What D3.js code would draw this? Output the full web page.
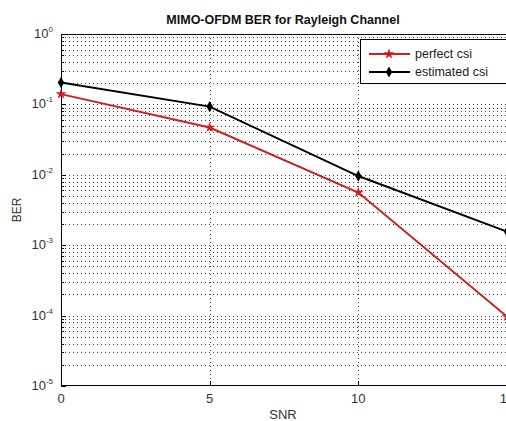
<!DOCTYPE html>
<html><head><meta charset="utf-8">
<script src="https://cdn.jsdelivr.net/npm/d3@7"></script>
<style>body{margin:0;background:#fff;}svg{display:block;}text{font-family:Arial,"Liberation Sans",sans-serif;}</style>
</head><body>
<script>
const snr = [0, 5, 10, 15];
const perfectCsi = [0.14, 0.047, 0.0056, 0.000097];
const estimatedCsi = [0.204, 0.093, 0.0096, 0.00156];
const xTicks = [0, 5, 10, 15];
const yDecades = [0, -1, -2, -3, -4, -5];
const seriesNames = ["perfect csi", "estimated csi"];

const W = 506, H = 421;
const svg = d3.select("body").append("svg").attr("width", W).attr("height", H);
const x = d3.scaleLinear().domain([0, 15]).range([61, 507]);
const y = d3.scaleLog().domain([1e-5, 1]).range([386, 34]);

// grid
const g = svg.append("g");
const minorVals = [];
for (let e = -5; e < 0; e++) for (let m = 1; m <= 9; m++) minorVals.push(m * Math.pow(10, e));
minorVals.push(1);
g.selectAll(".hg").data(minorVals.filter(v => v > 1e-5 && v < 1)).join("line")
  .attr("x1", x(0)).attr("x2", x(15)).attr("y1", d => Math.round(y(d)) + 0.5).attr("y2", d => Math.round(y(d)) + 0.5)
  .attr("stroke", "#444").attr("stroke-width", 1).attr("stroke-dasharray", "1,3");
g.selectAll(".vg").data([5, 10]).join("line")
  .attr("x1", d => Math.round(x(d)) + 0.5).attr("x2", d => Math.round(x(d)) + 0.5).attr("y1", y(1)).attr("y2", y(1e-5))
  .attr("stroke", "#444").attr("stroke-width", 1).attr("stroke-dasharray", "1,3");

// axes box
const ax = svg.append("g");
ax.append("line").attr("x1", x(0)+0.5).attr("x2", x(0)+0.5).attr("y1", y(1)).attr("y2", y(1e-5)).attr("stroke", "#000");
ax.append("line").attr("x1", x(0)).attr("x2", x(15)).attr("y1", y(1)+0.5).attr("y2", y(1)+0.5).attr("stroke", "#000");
ax.append("line").attr("x1", x(0)).attr("x2", x(15)).attr("y1", y(1e-5)-0.5).attr("y2", y(1e-5)-0.5).attr("stroke", "#000");
const isDecade = d => Math.abs(Math.log10(d) - Math.round(Math.log10(d))) < 1e-9;
ax.selectAll(".yt").data(minorVals.filter(v => v >= 1e-5 && v <= 1)).join("line")
  .attr("x1", x(0)).attr("x2", d => x(0) + (isDecade(d) ? 5 : 3))
  .attr("y1", d => Math.round(y(d)) + 0.5).attr("y2", d => Math.round(y(d)) + 0.5).attr("stroke", "#000");
ax.selectAll(".xt").data([5, 10]).join("line")
  .attr("x1", d => Math.round(x(d)) + 0.5).attr("x2", d => Math.round(x(d)) + 0.5)
  .attr("y1", y(1e-5)).attr("y2", y(1e-5) - 5).attr("stroke", "#000");

// y tick labels
const yl = svg.append("g").attr("fill", "#333").attr("font-size", 13);
yDecades.forEach(e => {
  const t = yl.append("text").attr("x", 53).attr("y", y(Math.pow(10, e)) + 4).attr("text-anchor", "end");
  t.append("tspan").text("10");
  t.append("tspan").attr("font-size", 8).attr("dy", -6).text(e);
});
// x tick labels
svg.append("g").selectAll("text").data(xTicks).join("text")
  .attr("x", d => x(d)).attr("y", 403).attr("text-anchor", "middle").attr("font-size", 13).attr("fill", "#333")
  .text(d => d);

svg.append("text").attr("x", 283).attr("y", 419).attr("text-anchor", "middle").attr("font-size", 13).attr("fill", "#333").text("SNR");
svg.append("text").attr("transform", "translate(21,210) rotate(-90)").attr("text-anchor", "middle").attr("font-size", 12).attr("fill", "#333").text("BER");
svg.append("text").attr("x", 283).attr("y", 24).attr("text-anchor", "middle").attr("font-size", 12.5).attr("font-weight", "bold").attr("fill", "#111").text("MIMO-OFDM BER for Rayleigh Channel");

// lines
const line = d3.line().x((d, i) => x(snr[i])).y(d => y(d));
const colors = ["#cc2020", "#000"];
const symbols = [d3.symbolStar, d3.symbolDiamond];
[perfectCsi, estimatedCsi].forEach((s, k) => {
  svg.append("path").datum(s).attr("d", line).attr("fill", "none").attr("stroke", colors[k]).attr("stroke-width", 2);
  svg.append("g").selectAll("path").data(s).join("path")
    .attr("transform", (d, i) => `translate(${x(snr[i])},${y(d)})`)
    .attr("d", d3.symbol().type(symbols[k]).size(36)).attr("fill", colors[k]);
});

// legend
const lg = svg.append("g");
lg.append("rect").attr("x", 360.5).attr("y", 39.5).attr("width", 146).attr("height", 44).attr("fill", "#fff").attr("stroke", "#000");
seriesNames.forEach((n, k) => {
  const yy = 54 + k * 18;
  lg.append("line").attr("x1", 369).attr("x2", 410).attr("y1", yy).attr("y2", yy).attr("stroke", colors[k]).attr("stroke-width", 2);
  lg.append("path").attr("transform", `translate(389,${yy})`).attr("d", d3.symbol().type(symbols[k]).size(36)).attr("fill", colors[k]);
  lg.append("text").attr("x", 415).attr("y", yy + 4).attr("font-size", 12.5).attr("fill", "#222").text(n);
});
</script>
</body></html>
